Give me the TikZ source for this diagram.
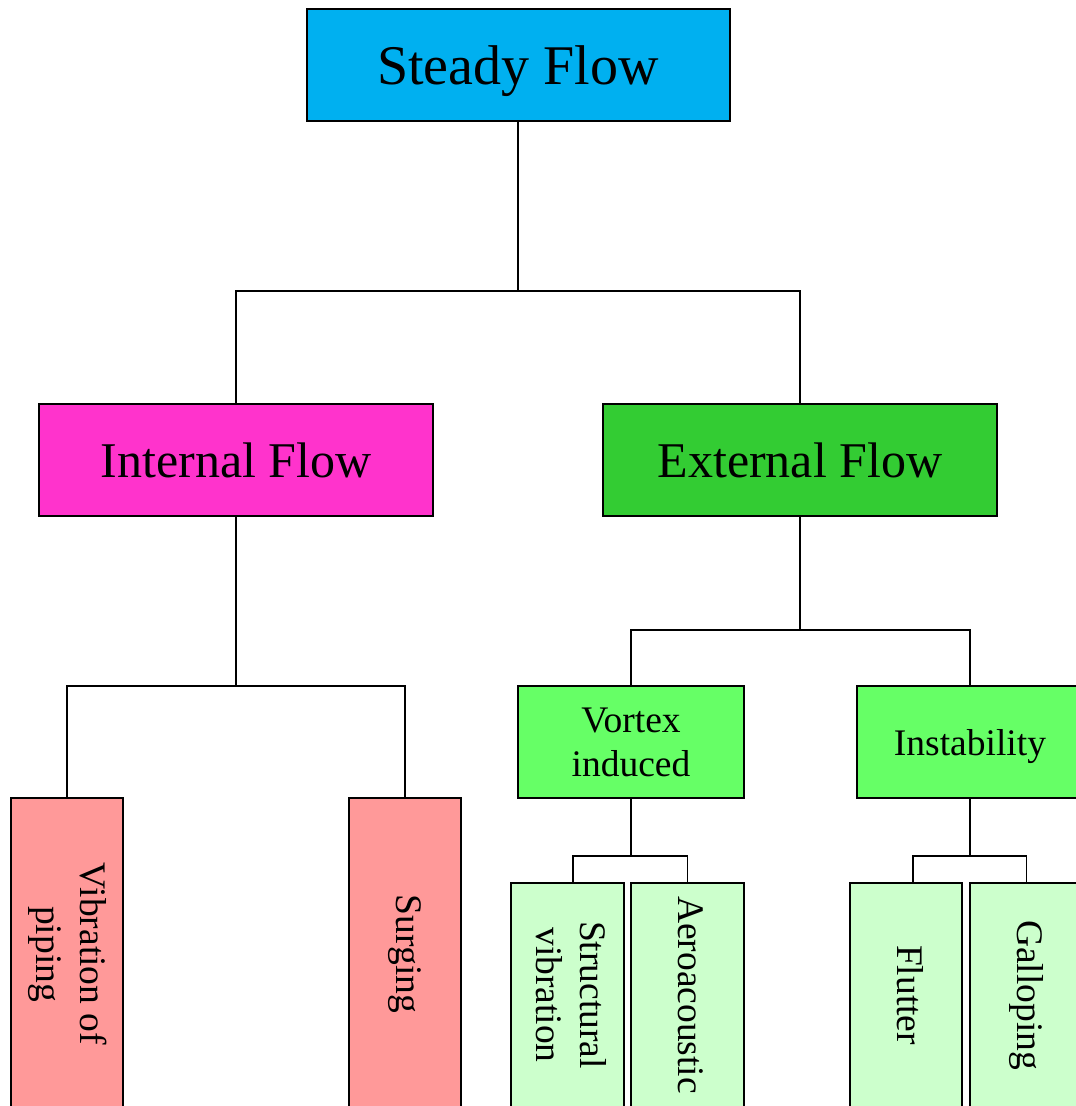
\documentclass[tikz,border=0pt]{standalone}
\usepackage{fontspec}
\setmainfont{Liberation Serif}
\usepackage{graphicx}
\definecolor{cSteady}{RGB}{0,176,240}
\definecolor{cInternal}{RGB}{255,51,204}
\definecolor{cExternal}{RGB}{51,204,51}
\definecolor{cMid}{RGB}{102,255,102}
\definecolor{cLight}{RGB}{204,255,204}
\definecolor{cPink}{RGB}{255,153,153}
\newcommand{\vtext}[1]{\rotatebox{-90}{\begin{tabular}{@{}c@{}}#1\end{tabular}}}
\begin{document}
\begin{tikzpicture}[x=1pt,y=-1pt,
  box/.style={draw=black,line width=2pt,inner sep=0pt,align=center,text=black},
  big/.style={font=\fontsize{50}{56}\selectfont},
  small/.style={font=\fontsize{37.5}{44}\selectfont},
  conn/.style={draw=black,line width=1.9pt}]
\useasboundingbox (0,0) rectangle (1076,1106);
\clip (0,0) rectangle (1076,1106);

\node[box,fill=cSteady,minimum width=423,minimum height=112,text depth=0pt,font=\fontsize{56}{62}\selectfont] (steady) at (518,65) {Steady Flow};
\node[box,big,fill=cInternal,minimum width=394,minimum height=112] (internal) at (236,460) {Internal Flow};
\node[box,big,fill=cExternal,minimum width=394,minimum height=112] (external) at (800,460) {External Flow};
\node[box,small,fill=cMid,minimum width=226,minimum height=112] (vortex) at (631,742) {Vortex\\induced};
\node[box,small,fill=cMid,minimum width=226,minimum height=112,text depth=0pt] (instab) at (970,742) {Instability};

\node[box,small,fill=cPink,minimum width=112,minimum height=312] (vib) at (67,954) {\vtext{Vibration of\\piping}};
\node[box,small,fill=cPink,minimum width=112,minimum height=312] (surg) at (405,954) {\vtext{Surging}};
\node[box,small,fill=cLight,minimum width=113,minimum height=224] (struct) at (567,995) {\vtext{Structural\\vibration}};
\node[box,small,fill=cLight,minimum width=113,minimum height=224] (aero) at (687.5,995) {\vtext{Aeroacoustic}};
\node[box,small,fill=cLight,minimum width=112,minimum height=224] (flutter) at (906,995) {\vtext{Flutter}};
\node[box,small,fill=cLight,minimum width=113,minimum height=224] (gallop) at (1026.5,995) {\vtext{Galloping}};

\coordinate (j1) at (518,291);
\draw[conn] (steady.south) -- (j1);
\draw[conn] (internal.north) |- (j1) -| (external.north);

\coordinate (j2) at (236,686);
\draw[conn] (internal.south) -- (j2);
\draw[conn] (vib.north) |- (j2) -| (surg.north);

\coordinate (j3) at (800,630);
\draw[conn] (external.south) -- (j3);
\draw[conn] (vortex.north) |- (j3) -| (instab.north);

\coordinate (j4) at (631,856);
\draw[conn] (vortex.south) -- (j4);
\draw[conn] ([xshift=6pt]struct.north) |- (j4) -| (aero.north);

\coordinate (j5) at (970,856);
\draw[conn] (instab.south) -- (j5);
\draw[conn] ([xshift=7pt]flutter.north) |- (j5) -| (gallop.north);
\end{tikzpicture}
\end{document}
